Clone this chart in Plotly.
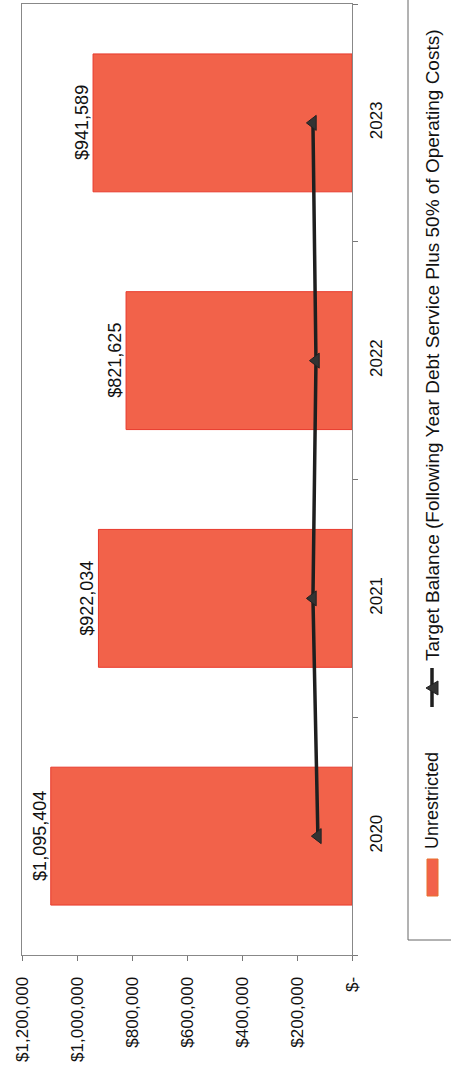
import plotly.graph_objects as go

years = ["2020", "2021", "2022", "2023"]
unrestricted = [1095404, 922034, 821625, 941589]
target_balance = [124000, 142000, 131000, 142000]
value_ticks = [0, 200000, 400000, 600000, 800000, 1000000, 1200000]
value_tick_labels = ["$-", "$200,000", "$400,000", "$600,000", "$800,000", "$1,000,000", "$1,200,000"]
legend_names = ["Unrestricted", "Target Balance (Following Year Debt Service Plus 50% of Operating Costs)"]

W, H = 451, 1082
L, R, T, B = 22, 99, 4, 127
PW, PH = W - L - R, H - T - B

def px(x):
    return (x - L) / PW

def py(y):
    return (H - B - y) / PH

FONT = "Arial, Liberation Sans, sans-serif"
BAR = "#F2624A"
DARK = "#1f1f1f"

fig = go.Figure()
fig.add_trace(go.Bar(
    y=years, x=unrestricted, orientation="h",
    marker=dict(color=BAR, line=dict(color="#E83A2C", width=1)),
    width=0.58, name=legend_names[0], showlegend=False, hoverinfo="skip",
))
fig.add_trace(go.Scatter(
    y=years, x=target_balance, mode="lines+markers",
    line=dict(color=DARK, width=3.5),
    marker=dict(symbol="triangle-left", size=13, color="#333333", line=dict(color="#222", width=1)),
    name=legend_names[1], showlegend=False, hoverinfo="skip",
))

for i, v in enumerate(unrestricted):
    fig.add_annotation(
        x=v, y=i, xref="x", yref="y", text="${:,}".format(v),
        textangle=-90, showarrow=False, xanchor="center", yanchor="middle",
        xshift=-11, font=dict(family=FONT, size=18, color="#111"),
    )

# Legend drawn by hand (rotated)
shapes = []
shapes.append(dict(type="rect", xref="paper", yref="paper",
                   x0=px(408), x1=px(470), y0=py(940), y1=py(-10),
                   line=dict(color="#666", width=1), fillcolor="rgba(0,0,0,0)"))
shapes.append(dict(type="rect", xref="paper", yref="paper",
                   x0=px(427), x1=px(438), y0=py(896), y1=py(859),
                   line=dict(color="#E8702C", width=1), fillcolor=BAR))
shapes.append(dict(type="line", xref="paper", yref="paper",
                   x0=px(432), x1=px(432), y0=py(707), y1=py(668),
                   line=dict(color=DARK, width=3.5)))
tri = "M {:.5f},{:.5f} L {:.5f},{:.5f} L {:.5f},{:.5f} Z".format(
    px(426), py(688), px(438), py(681), px(438), py(695))
shapes.append(dict(type="path", xref="paper", yref="paper", path=tri,
                   fillcolor="#333333", line=dict(color="#222", width=1)))

fig.add_annotation(x=px(432), y=py(801), xref="paper", yref="paper",
                   text=legend_names[0], textangle=-90, showarrow=False,
                   xanchor="center", yanchor="middle",
                   font=dict(family=FONT, size=18, color="#111"))
fig.add_annotation(x=px(432), y=py(345), xref="paper", yref="paper",
                   text=legend_names[1], textangle=-90, showarrow=False,
                   xanchor="center", yanchor="middle",
                   font=dict(family=FONT, size=19, color="#111"))

fig.update_layout(
    width=W, height=H,
    margin=dict(l=L, r=R, t=T, b=B, pad=0),
    paper_bgcolor="white", plot_bgcolor="white",
    shapes=shapes, showlegend=False,
    font=dict(family=FONT, size=16, color="#111"),
)
fig.update_xaxes(
    range=[1200000, 0], tickvals=value_ticks, ticktext=value_tick_labels,
    tickangle=-90, ticks="outside", ticklen=5, tickcolor="#777",
    showline=True, linecolor="#888", linewidth=1, mirror=True,
    showgrid=False, zeroline=False, ticklabelstandoff=9,
    tickfont=dict(family=FONT, size=17, color="#111"),
)
fig.update_yaxes(
    type="category", categoryorder="array", categoryarray=years,
    range=[-0.5, 3.5],
    side="right", tickangle=-90, ticks="outside", ticklen=5, tickcolor="#777",
    tickson="boundaries", showline=True, linecolor="#888", linewidth=1, mirror=True,
    showgrid=False, zeroline=False, ticklabelstandoff=9,
    tickfont=dict(family=FONT, size=17, color="#111"),
)

fig.write_html("out.html", config={"displayModeBar": False},
               post_script="document.body.style.margin='0';document.body.style.overflow='hidden';")
